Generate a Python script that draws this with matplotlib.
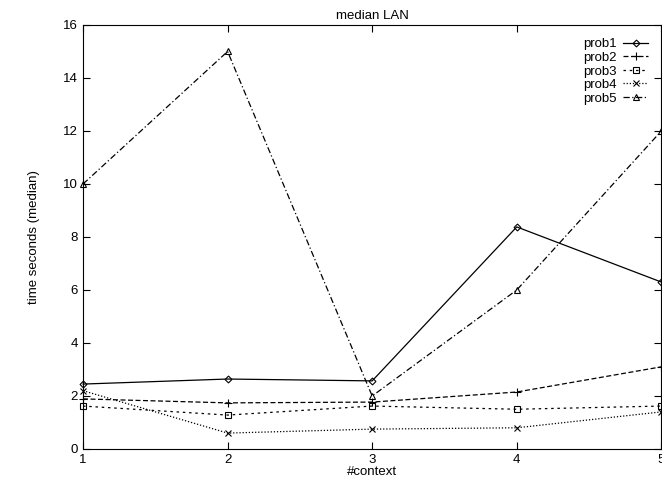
import matplotlib
matplotlib.use("Agg")
import matplotlib.pyplot as plt

plt.rcParams['font.family'] = ['Liberation Sans', 'DejaVu Sans']

contexts = [1, 2, 3, 4, 5]
prob1 = [2.45, 2.64, 2.57, 8.38, 6.3]
prob2 = [1.89, 1.74, 1.77, 2.15, 3.1]
prob3 = [1.62, 1.28, 1.62, 1.5, 1.62]
prob4 = [2.2, 0.6, 0.75, 0.8, 1.4]
prob5 = [10.0, 15.0, 2.0, 6.0, 12.0]
labels = ['prob1', 'prob2', 'prob3', 'prob4', 'prob5']

series = [prob1, prob2, prob3, prob4, prob5]
styles = [
    dict(ls='-', marker='D', ms=3.5),
    dict(ls=(0, (4, 2)), marker='+', ms=6),
    dict(ls=(0, (2, 3)), marker='s', ms=5),
    dict(ls=(0, (1, 1.5)), marker='x', ms=5),
    dict(ls=(0, (5, 2, 1, 2)), marker='^', ms=5),
]

fig = plt.figure(figsize=(6.62, 4.9), dpi=100)
ax = fig.add_axes([0.1254, 0.0837, 0.8736, 0.8653])

for y, lab, st in zip(series, labels, styles):
    ax.plot(contexts, y, color='black', lw=0.9, mfc='none', mec='black',
            mew=0.8, label=lab, clip_on=False, **st)

ax.set_xlim(1, 5)
ax.set_ylim(0, 16)
ax.set_xticks(contexts)
ax.set_yticks(range(0, 17, 2))
ax.tick_params(direction='in', top=True, right=True, length=5, labelsize=9.5)
ax.set_title('median LAN', fontsize=9.5, pad=4)
ax.set_xlabel('#context', fontsize=9.5, labelpad=0)
ax.set_ylabel('time seconds (median)', fontsize=9.5, labelpad=17)

ax.legend(loc='upper right', frameon=False, markerfirst=False, fontsize=9.5,
          handlelength=1.9, labelspacing=0.1, borderaxespad=0.5, handletextpad=0.45,
          borderpad=0.5)

fig.savefig('out.png', dpi=100)
